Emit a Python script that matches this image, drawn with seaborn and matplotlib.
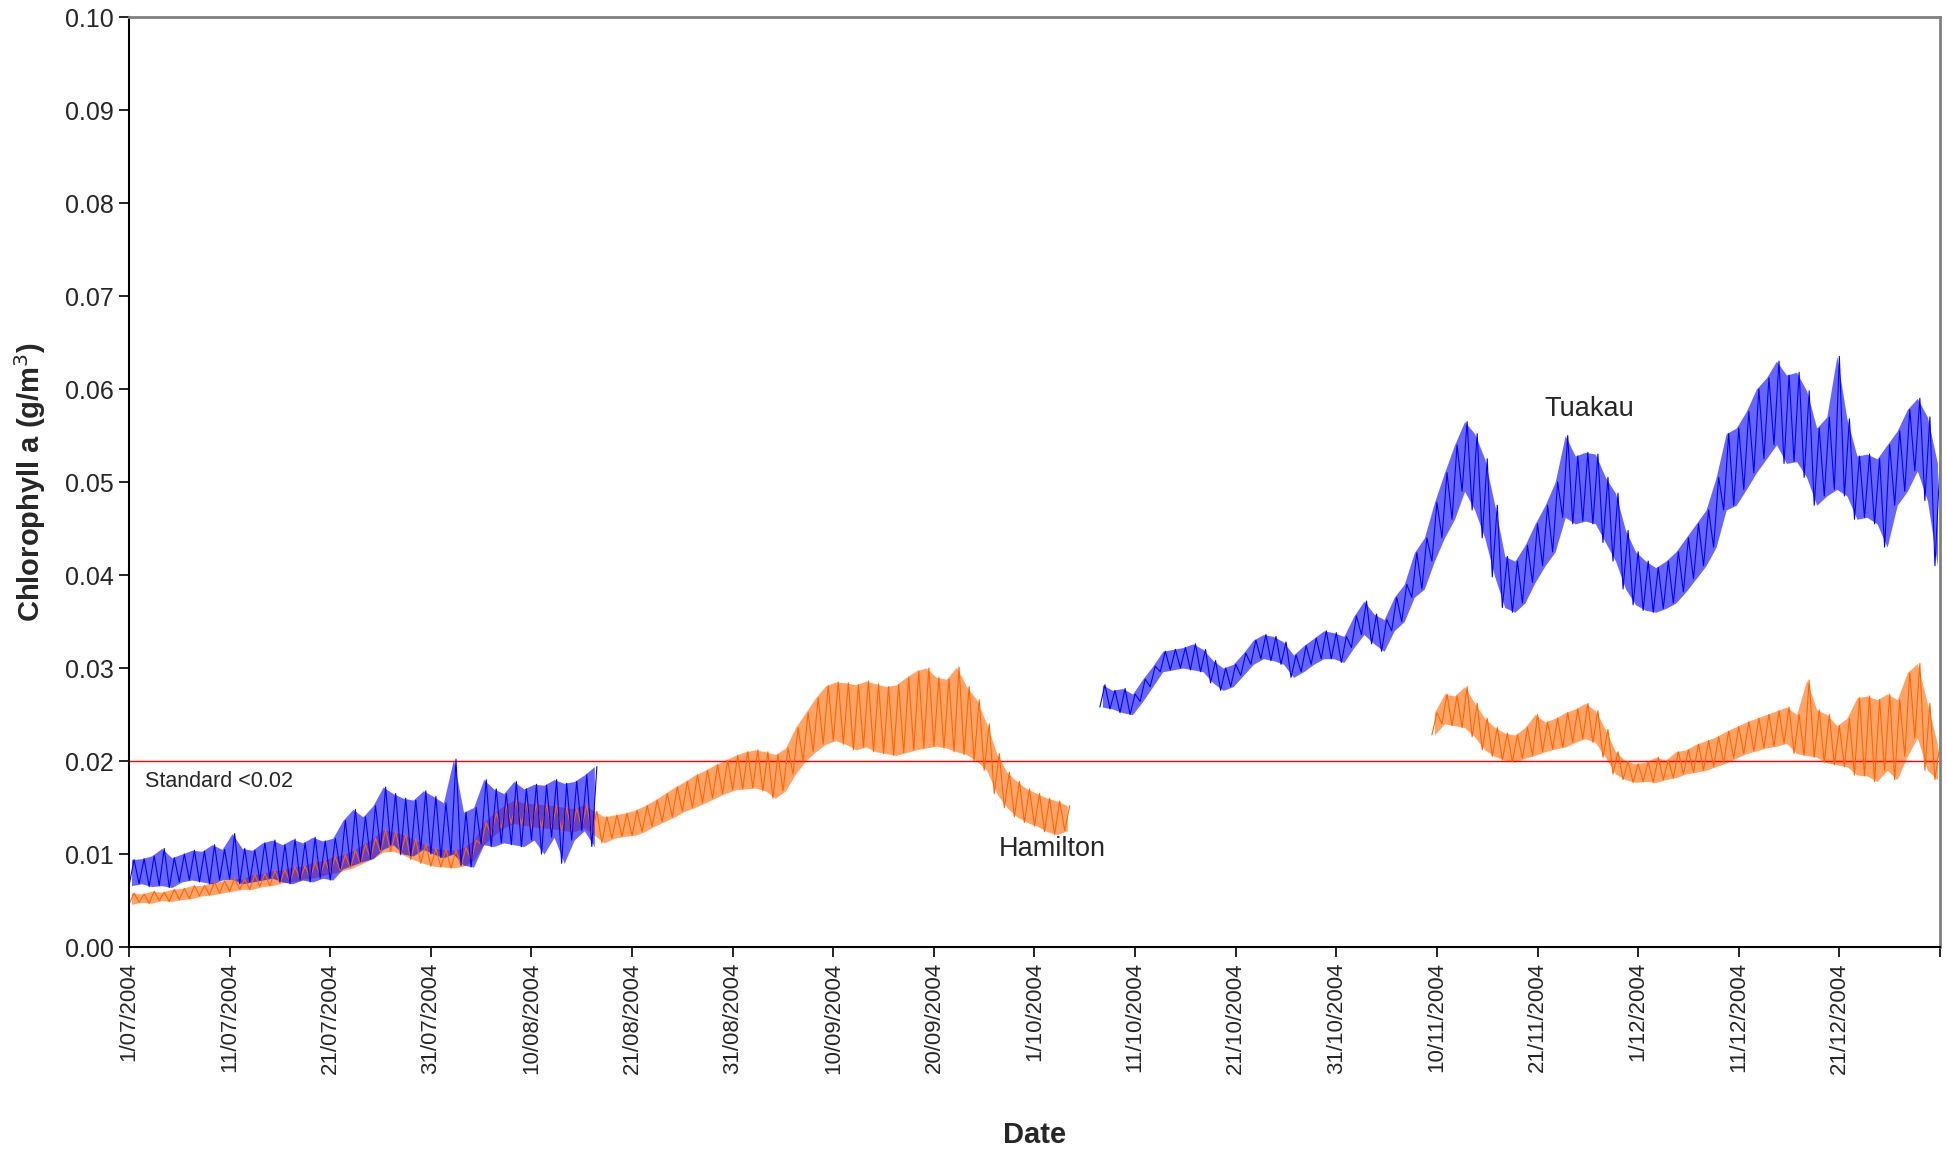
import numpy as np
import pandas as pd
import matplotlib
matplotlib.use("Agg")
import matplotlib.pyplot as plt
import seaborn as sns

sns.set_theme(style="white")
plt.rcParams["font.family"] = ["Liberation Sans", "DejaVu Sans"]

# x axis: one tick every 10 logger-days (category style axis, as in the original)
tick_labels = [
    "1/07/2004", "11/07/2004", "21/07/2004", "31/07/2004", "10/08/2004",
    "21/08/2004", "31/08/2004", "10/09/2004", "20/09/2004", "1/10/2004",
    "11/10/2004", "21/10/2004", "31/10/2004", "10/11/2004", "21/11/2004",
    "1/12/2004", "11/12/2004", "21/12/2004", "",
]

standard = 0.02

# daily (low, high) readings of chlorophyll a, g/m3
# Hamilton, from day 0
hamilton_jul_oct = [
    (.0046, .0058), (.0048, .0057), (.0047, .0060), (.0050, .0059), (.0049, .0062),
    (.0051, .0063), (.0052, .0066), (.0055, .0066), (.0056, .0070), (.0058, .0071),
    (.0060, .0074), (.0062, .0073), (.0062, .0078), (.0065, .0079), (.0066, .0082),
    (.0069, .0083), (.0070, .0086), (.0073, .0087), (.0074, .0091), (.0077, .0093),
    (.0079, .0097), (.0082, .0099), (.0085, .0104), (.0090, .0110), (.0095, .0117),
    (.0102, .0126), (.0103, .0124), (.0099, .0121), (.0094, .0116), (.0090, .0111),
    (.0087, .0106), (.0086, .0105), (.0085, .0104), (.0087, .0107), (.0093, .0115),
    (.0110, .0134), (.0120, .0144), (.0128, .0152), (.0133, .0158), (.0131, .0155),
    (.0129, .0154), (.0128, .0153), (.0127, .0152), (.0125, .0150), (.0124, .0149),
    (.0128, .0153), (.0120, .0146), (.0112, .0140), (.0117, .0142), (.0119, .0144),
    (.0120, .0147), (.0124, .0152), (.0130, .0158), (.0135, .0165), (.0140, .0172),
    (.0146, .0178), (.0150, .0185), (.0155, .0190), (.0160, .0196), (.0165, .0201),
    (.0169, .0206), (.0170, .0210), (.0171, .0212), (.0168, .0210), (.0160, .0207),
    (.0168, .0214), (.0186, .0236), (.0200, .0252), (.0210, .0268), (.0218, .0281),
    (.0222, .0285), (.0218, .0284), (.0212, .0282), (.0215, .0286), (.0210, .0283),
    (.0208, .0280), (.0206, .0282), (.0209, .0290), (.0212, .0297), (.0214, .0300),
    (.0216, .0290), (.0214, .0288), (.0210, .0301), (.0207, .0280), (.0200, .0266),
    (.0190, .0240), (.0165, .0208), (.0150, .0188), (.0140, .0178), (.0134, .0170),
    (.0130, .0165), (.0124, .0160), (.0121, .0157), (.0125, .0152),
]
hamilton_jul_oct_start = 0

# Hamilton, restarts mid November
hamilton_nov_dec = [
    (.0228, .0252), (.0240, .0272), (.0238, .0270), (.0236, .0280), (.0226, .0262),
    (.0212, .0246), (.0205, .0236), (.0201, .0230), (.0199, .0228), (.0203, .0236),
    (.0206, .0250), (.0210, .0242), (.0213, .0246), (.0215, .0252), (.0220, .0256),
    (.0224, .0262), (.0220, .0254), (.0204, .0234), (.0186, .0210), (.0180, .0200),
    (.0177, .0197), (.0178, .0199), (.0177, .0204), (.0180, .0201), (.0182, .0210),
    (.0186, .0212), (.0188, .0218), (.0190, .0222), (.0194, .0226), (.0198, .0232),
    (.0203, .0237), (.0208, .0242), (.0211, .0246), (.0214, .0250), (.0216, .0254),
    (.0219, .0258), (.0208, .0250), (.0206, .0287), (.0204, .0255), (.0198, .0250),
    (.0196, .0238), (.0194, .0246), (.0185, .0268), (.0184, .0270), (.0178, .0266),
    (.0190, .0272), (.0180, .0266), (.0205, .0295), (.0225, .0305), (.0190, .0262),
    (.0180, .0218),
]
hamilton_nov_dec_start = 129.5

# Tuakau, from day 0
tuakau_jul_aug = [
    (.0066, .0094), (.0068, .0095), (.0065, .0098), (.0066, .0106), (.0064, .0096),
    (.0070, .0100), (.0072, .0104), (.0070, .0103), (.0068, .0110), (.0072, .0105),
    (.0073, .0122), (.0068, .0106), (.0070, .0104), (.0072, .0112), (.0074, .0115),
    (.0070, .0110), (.0068, .0116), (.0072, .0112), (.0070, .0118), (.0074, .0114),
    (.0072, .0117), (.0084, .0136), (.0088, .0148), (.0092, .0140), (.0095, .0152),
    (.0105, .0172), (.0110, .0165), (.0100, .0160), (.0098, .0158), (.0105, .0168),
    (.0100, .0162), (.0096, .0155), (.0100, .0202), (.0088, .0145), (.0086, .0150),
    (.0110, .0180), (.0108, .0170), (.0112, .0165), (.0110, .0178), (.0108, .0170),
    (.0115, .0175), (.0100, .0174), (.0118, .0180), (.0090, .0176), (.0115, .0178),
    (.0125, .0185), (.0108, .0194),
]
tuakau_jul_aug_start = 0

# Tuakau, restarts early October
tuakau_oct_dec = [
    (.0258, .0282), (.0256, .0276), (.0252, .0278), (.0250, .0272), (.0264, .0288),
    (.0280, .0302), (.0296, .0318), (.0298, .0320), (.0300, .0322), (.0298, .0326),
    (.0296, .0320), (.0284, .0308), (.0276, .0300), (.0280, .0304), (.0292, .0316),
    (.0304, .0330), (.0310, .0336), (.0308, .0334), (.0304, .0328), (.0290, .0314),
    (.0296, .0324), (.0304, .0332), (.0310, .0340), (.0310, .0338), (.0306, .0334),
    (.0322, .0356), (.0336, .0372), (.0326, .0358), (.0318, .0352), (.0340, .0376),
    (.0350, .0390), (.0376, .0424), (.0385, .0440), (.0415, .0478), (.0440, .0510),
    (.0460, .0540), (.0490, .0565), (.0470, .0552), (.0440, .0525), (.0398, .0475),
    (.0365, .0420), (.0360, .0415), (.0370, .0432), (.0392, .0455), (.0410, .0475),
    (.0425, .0500), (.0462, .0550), (.0455, .0528), (.0458, .0532), (.0455, .0530),
    (.0435, .0505), (.0415, .0488), (.0385, .0448), (.0368, .0425), (.0362, .0415),
    (.0360, .0408), (.0364, .0415), (.0370, .0425), (.0382, .0440), (.0396, .0455),
    (.0410, .0470), (.0430, .0505), (.0470, .0552), (.0475, .0558), (.0492, .0576),
    (.0510, .0600), (.0525, .0612), (.0540, .0630), (.0520, .0615), (.0522, .0618),
    (.0505, .0598), (.0475, .0558), (.0485, .0570), (.0492, .0635), (.0485, .0568),
    (.0460, .0528), (.0462, .0530), (.0455, .0525), (.0430, .0540), (.0475, .0555),
    (.0490, .0578), (.0512, .0590), (.0480, .0570), (.0410, .0520),
]
tuakau_oct_dec_start = 96.5


def band_frame(pairs, start):
    # low then high each day, half a day apart
    vals = np.array(pairs).ravel()
    days = start + np.arange(len(vals)) * 0.5
    return pd.DataFrame({"day": days, "chl": vals})


def draw_band(ax, pairs, start, color):
    arr = np.array(pairs)
    days = start + np.arange(len(arr)) + 0.25
    ax.fill_between(days, arr[:, 0], arr[:, 1], color=color, alpha=0.6, lw=0)
    sns.lineplot(data=band_frame(pairs, start), x="day", y="chl", ax=ax,
                 color=color, lw=0.8, estimator=None)


fig = plt.figure(figsize=(19.46, 11.5), dpi=100)
ax = fig.add_axes([0.0663, 0.1765, 0.9306, 0.8087])

orange = "#FF6600"
blue = "#0000FF"

draw_band(ax, hamilton_jul_oct, hamilton_jul_oct_start, orange)
draw_band(ax, hamilton_nov_dec, hamilton_nov_dec_start, orange)
draw_band(ax, tuakau_jul_aug, tuakau_jul_aug_start, blue)
draw_band(ax, tuakau_oct_dec, tuakau_oct_dec_start, blue)

ax.axhline(standard, color="red", lw=1.0, zorder=1)

ax.text(1.6, 0.0178, "Standard <0.02", fontsize=15.5, va="center", ha="left")
ax.text(86.4, 0.0105, "Hamilton", fontsize=19.5, va="center", ha="left")
ax.text(140.7, 0.0578, "Tuakau", fontsize=19.5, va="center", ha="left")

ax.set_xlim(0, 180)
ax.set_ylim(0, 0.10)
ax.set_xticks(np.arange(0, 181, 10))
ax.set_xticklabels(tick_labels, rotation=90, fontsize=16)
ax.set_yticks(np.arange(0, 0.101, 0.01))
ax.set_yticklabels([f"{v:.2f}" for v in np.arange(0, 0.101, 0.01)], fontsize=18)
ax.tick_params(axis="both", direction="out", length=7, width=1.2, color="black",
               bottom=True, left=True, pad=4)

ax.set_xlabel("Date", fontsize=21, fontweight="bold", labelpad=34)
ax.set_ylabel("Chlorophyll a (g/m$^3$)", fontsize=21, fontweight="bold", labelpad=12)

for side in ["left", "bottom"]:
    ax.spines[side].set_color("black")
    ax.spines[side].set_linewidth(1.5)
for side in ["top", "right"]:
    ax.spines[side].set_color("#808080")
    ax.spines[side].set_linewidth(2.0)
ax.grid(False)

fig.savefig("out.png", dpi=100)
